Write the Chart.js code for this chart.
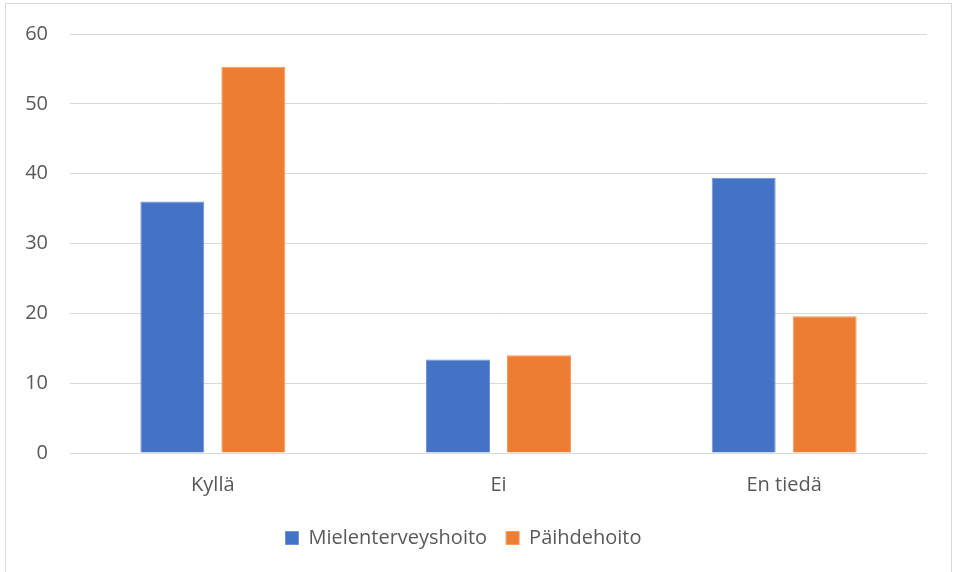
<!DOCTYPE html>
<html>
<head>
<meta charset="utf-8">
<script src="https://cdn.jsdelivr.net/npm/chart.js@4/dist/chart.umd.min.js"></script>
<style>
  body { margin: 0; background: #fff; }
  #kehys { position: absolute; left: 5px; top: 3px; width: 945px; height: 580px; border: 1px solid #d9d9d9; }
  #wrap { position: absolute; left: 0; top: 0; width: 955px; height: 572px; }
</style>
</head>
<body>
<div id="kehys"></div>
<div id="wrap"><canvas id="kaavio"></canvas></div>
<script>
// vastausvaihtoehdot
var kategoriat = ["Kyllä", "Ei", "En tiedä"];
// osuudet (%)
var mielenterveys = [36.0, 13.4, 39.4];
var paihde = [55.3, 14.0, 19.6];
var sarjat = ["Mielenterveyshoito", "Päihdehoito"];

var fontti = "'Open Sans', 'Noto Sans', sans-serif";

new Chart(document.getElementById("kaavio"), {
    type: 'bar',
    data: {
        labels: kategoriat,
        datasets: [{
            label: sarjat[0],
            data: mielenterveys,
            backgroundColor: "#4472c4",
            borderColor: "#6f93d6",
            borderWidth: 1
        }, {
            label: sarjat[1],
            data: paihde,
            backgroundColor: "#ed7d31",
            borderColor: "#f29a63",
            borderWidth: 1
        }]
    },
    options: {
        responsive: true,
        maintainAspectRatio: false,
        animation: false,
        categoryPercentage: 0.567,
        barPercentage: 0.79,
        layout: { padding: { left: 0, right: 28, top: 27, bottom: 14 } },
        scales: {
            x: {
                grid: { display: false },
                border: { display: false },
                ticks: { color: "#595959", font: { family: fontti, size: 20 }, padding: 12 }
            },
            y: {
                min: 0,
                max: 60,
                ticks: { stepSize: 10, color: "#595959", font: { family: fontti, size: 20 }, padding: 22 },
                grid: { color: "#d9d9d9", lineWidth: 1, drawTicks: false },
                border: { display: false },
                afterFit: function (s) { s.width = 70; }
            }
        },
        plugins: {
            legend: {
                position: 'bottom',
                labels: {
                    color: "#595959",
                    font: { family: fontti, size: 20 },
                    boxWidth: 13,
                    boxHeight: 13,
                    padding: 19
                }
            },
            tooltip: { enabled: false }
        }
    }
});
</script>
</body>
</html>
